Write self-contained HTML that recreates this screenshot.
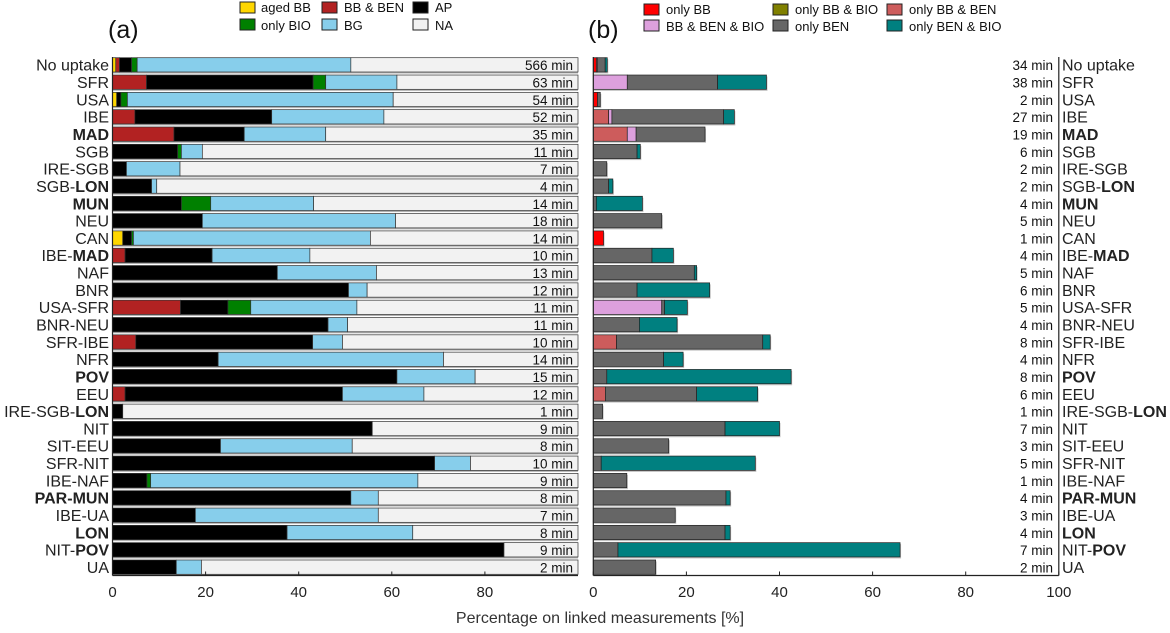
<!DOCTYPE html>
<html><head><meta charset="utf-8"><style>
body{margin:0;background:#fff;}
svg{font-family:"Liberation Sans",Arial,sans-serif;}
</style></head><body>
<svg id="chart" width="1170" height="628" xmlns="http://www.w3.org/2000/svg">
<g id="legA" font-size="13" fill="#111">
  <rect x="240" y="2" width="15" height="11" fill="#FFD700" stroke="#222"/><text x="261" y="12">aged BB</text>
  <rect x="322" y="2" width="15" height="11" fill="#B22222" stroke="#222"/><text x="344" y="12">BB &amp; BEN</text>
  <rect x="413" y="2" width="15" height="11" fill="#000" stroke="#222"/><text x="435" y="12">AP</text>
  <rect x="240" y="19" width="15" height="11" fill="#008000" stroke="#222"/><text x="261" y="30">only BIO</text>
  <rect x="322" y="19" width="15" height="11" fill="#87CEEB" stroke="#222"/><text x="344" y="30">BG</text>
  <rect x="413" y="19" width="15" height="11" fill="#F2F2F2" stroke="#222"/><text x="435" y="30">NA</text>
</g>
<g id="legB" font-size="13" fill="#111">
  <rect x="644" y="4" width="15" height="11" fill="#FF0000" stroke="#222"/><text x="666" y="14">only BB</text>
  <rect x="773" y="4" width="15" height="11" fill="#808000" stroke="#222"/><text x="795" y="14">only BB &amp; BIO</text>
  <rect x="887" y="4" width="15" height="11" fill="#CD5C5C" stroke="#222"/><text x="909" y="14">only BB &amp; BEN</text>
  <rect x="644" y="20" width="15" height="11" fill="#DDA0DD" stroke="#222"/><text x="666" y="31">BB &amp; BEN &amp; BIO</text>
  <rect x="773" y="20" width="15" height="11" fill="#666666" stroke="#222"/><text x="795" y="31">only BEN</text>
  <rect x="887" y="20" width="15" height="11" fill="#008080" stroke="#222"/><text x="909" y="31">only BEN &amp; BIO</text>
</g>
<text x="108" y="38" font-size="25" fill="#111">(a)</text>
<text x="588" y="38" font-size="25" fill="#111">(b)</text>
<g id="plotA"></g>
<g id="plotB"></g>
<text x="600" y="623" font-size="16" fill="#333" text-anchor="middle">Percentage on linked measurements [%]</text>
</svg>
<script>
const categories = ["No uptake","SFR","USA","IBE","MAD","SGB","IRE-SGB","SGB-LON","MUN","NEU","CAN","IBE-MAD","NAF","BNR","USA-SFR","BNR-NEU","SFR-IBE","NFR","POV","EEU","IRE-SGB-LON","NIT","SIT-EEU","SFR-NIT","IBE-NAF","PAR-MUN","IBE-UA","LON","NIT-POV","UA"];
const boldParts = {"MAD":["","MAD"],"SGB-LON":["SGB-","LON"],"MUN":["","MUN"],"IBE-MAD":["IBE-","MAD"],"POV":["","POV"],"IRE-SGB-LON":["IRE-SGB-","LON"],"PAR-MUN":["","PAR-MUN"],"LON":["","LON"],"NIT-POV":["NIT-","POV"]};
const agedBB = [0.7,0,0.9,0,0,0,0,0,0,0,2.2,0,0,0,0,0,0,0,0,0,0,0,0,0,0,0,0,0,0,0];
const bbBen  = [0.8,7.3,0,4.8,13.2,0,0,0,0,0,0,2.7,0,0,14.6,0,5.0,0,0,2.7,0,0,0,0,0,0,0,0,0,0];
const ap     = [2.6,35.8,0.9,29.4,15.1,14.0,3.0,8.4,14.8,19.3,1.9,18.7,35.4,50.7,10.2,46.3,38.0,22.7,61.1,46.7,2.2,55.8,23.2,69.2,7.4,51.2,17.8,37.5,84.1,13.7];
const onlyBio= [1.2,2.7,1.4,0,0,0.8,0,0,6.3,0,0.4,0,0,0,4.9,0,0,0,0,0,0,0,0,0,0.8,0,0,0,0,0];
const bg     = [45.9,15.3,57.1,24.1,17.5,4.5,11.5,1.1,22.1,41.5,50.9,21.0,21.3,4.0,22.8,4.2,6.4,48.4,16.8,17.5,0,0,28.3,7.7,57.4,5.9,39.3,27.0,0,5.4];
const minsA  = [566,63,54,52,35,11,7,4,14,18,14,10,13,12,11,11,10,14,15,12,1,9,8,10,9,8,7,8,9,2];
const onlyBB    = [0.65,0,0.9,0,0,0,0,0,0,0,2.2,0,0,0,0,0,0,0,0,0,0,0,0,0,0,0,0,0,0,0];
const onlyBBBio = [0,0,0,0,0,0,0,0,0,0,0,0,0,0,0,0,0,0,0,0,0,0,0,0,0,0,0,0,0,0];
const onlyBBBen = [0.2,0,0,3.3,7.3,0,0,0,0,0,0,0,0,0,0,0,5.0,0,0,2.6,0,0,0,0,0,0,0,0,0,0];
const bbBenBio  = [0,7.3,0,0.7,1.9,0,0,0,0,0,0,0,0,0,14.7,0,0,0,0,0,0,0,0,0,0,0,0,0,0,0];
const onlyBen   = [1.7,19.4,0.6,24.0,14.8,9.4,2.9,3.3,0.65,14.7,0,12.6,21.7,9.4,0.6,9.9,31.4,15.1,2.9,19.6,2.0,28.3,16.2,1.7,7.2,28.5,17.6,28.3,5.3,13.4];
const onlyBenBio= [0.45,10.5,0,2.3,0,0.7,0,0.9,9.9,0,0,4.6,0.5,15.6,4.9,8.1,1.6,4.2,39.6,13.1,0,11.7,0,33.1,0,0.9,0,1.1,60.6,0];
const minsB     = [34,38,2,27,19,6,2,2,4,5,1,4,5,6,5,4,8,4,8,6,1,7,3,5,1,4,3,4,7,2];
const ticksA = [0,20,40,60,80];
const ticksB = [0,20,40,60,80,100];

const NS="http://www.w3.org/2000/svg";
const x0A=112.5, x0B=593.3, pxPer=4.655;
const rowTop=57.7, rowStep=17.32, barH=14.3, axisBottom=575.5;
function xA(v){return x0A+v*pxPer;}
function xB(v){return x0B+v*pxPer;}
function yRow(i){return rowTop+i*rowStep;}
function mk(tag,attrs,parent){const e=document.createElementNS(NS,tag);for(const k in attrs)e.setAttribute(k,attrs[k]);parent.appendChild(e);return e;}

const gA=document.getElementById('plotA'), gB=document.getElementById('plotB');
const seriesA=[[agedBB,'#FFD700','aged-bb'],[bbBen,'#B22222','bb-ben'],[ap,'#000000','ap'],[onlyBio,'#008000','only-bio'],[bg,'#87CEEB','bg']];
const seriesB=[[onlyBB,'#FF0000','only-bb'],[onlyBBBio,'#808000','only-bb-bio'],[onlyBBBen,'#CD5C5C','only-bb-ben'],[bbBenBio,'#DDA0DD','bb-ben-bio'],[onlyBen,'#666666','only-ben'],[onlyBenBio,'#008080','only-ben-bio']];

categories.forEach((c,i)=>{
  const y=yRow(i);
  let sh=mk('rect',{x:xA(0),y:y+1.5,width:xA(100)-xA(0),height:barH,fill:'#b0b0b0'},gA);
  
  
  let cum=0;
  seriesA.forEach(s=>{
    const v=s[0][i];
    if(v>0){const r=mk('rect',{x:xA(cum),y:y,width:xA(cum+v)-xA(cum),height:barH,fill:s[1],stroke:'#333','stroke-width':0.7},gA);
      
      }
    cum+=v;
  });
  const na=mk('rect',{x:xA(cum),y:y,width:xA(100)-xA(cum),height:barH,fill:'#F2F2F2',stroke:'#333','stroke-width':0.7},gA);
  
  
  const mt=mk('text',{x:573,y:y+12.5,'font-size':13.5,'text-anchor':'end',fill:'#111'},gA);
  mt.textContent=minsA[i]+' min';
  
  
  const lt=mk('text',{x:109,y:y+13,'font-size':16,'text-anchor':'end',fill:'#222'},gA);
  
  
  const rt=mk('text',{x:1062,y:y+13,'font-size':16,'text-anchor':'start',fill:'#222'},gB);
  
  
  [lt,rt].forEach(t=>{
    if(boldParts[c]){const p=boldParts[c];
      if(p[0]){const a=mk('tspan',{},t);a.textContent=p[0];}
      const b=mk('tspan',{'font-weight':'bold'},t);b.textContent=p[1];
    } else t.textContent=c;
  });
  let cumB=0, tot=0;
  seriesB.forEach(s=>tot+=s[0][i]);
  if(tot>0){const sb=mk('rect',{x:xB(0),y:y+1.5,width:xB(tot)-xB(0)+1,height:barH,fill:'#c0c0c0'},gB);
    
    }
  seriesB.forEach(s=>{
    const v=s[0][i];
    if(v>0){const r=mk('rect',{x:xB(cumB),y:y,width:xB(cumB+v)-xB(cumB),height:barH,fill:s[1],stroke:'#222','stroke-width':0.7},gB);
      
      }
    cumB+=v;
  });
  const mb=mk('text',{x:1053,y:y+12.5,'font-size':13.5,'text-anchor':'end',fill:'#111'},gB);
  mb.textContent=minsB[i]+' min';
  
  
});
let l=mk('line',{x1:x0A,y1:57,x2:x0A,y2:axisBottom,stroke:'#222','stroke-width':1.2},gA);


l=mk('line',{x1:x0A,y1:axisBottom,x2:xA(100),y2:axisBottom,stroke:'#222','stroke-width':1.2},gA);


ticksA.forEach(t=>{
  const tk=mk('line',{x1:xA(t),y1:axisBottom,x2:xA(t),y2:axisBottom-4,stroke:'#222'},gA);
  
  
  const tl=mk('text',{x:xA(t),y:597,'font-size':15,'text-anchor':'middle',fill:'#222'},gA);
  tl.textContent=t;
  
  
});
l=mk('line',{x1:x0B,y1:57,x2:x0B,y2:axisBottom,stroke:'#222','stroke-width':1.2},gB);


l=mk('line',{x1:xB(100),y1:57,x2:xB(100),y2:axisBottom,stroke:'#222','stroke-width':1.2},gB);


l=mk('line',{x1:x0B,y1:axisBottom,x2:xB(100),y2:axisBottom,stroke:'#222','stroke-width':1.2},gB);


ticksB.forEach(t=>{
  const tk=mk('line',{x1:xB(t),y1:axisBottom,x2:xB(t),y2:axisBottom-4,stroke:'#222'},gB);
  
  
  const tl=mk('text',{x:xB(t),y:597,'font-size':15,'text-anchor':'middle',fill:'#222'},gB);
  tl.textContent=t;
  
  
});
</script>
</body></html>
